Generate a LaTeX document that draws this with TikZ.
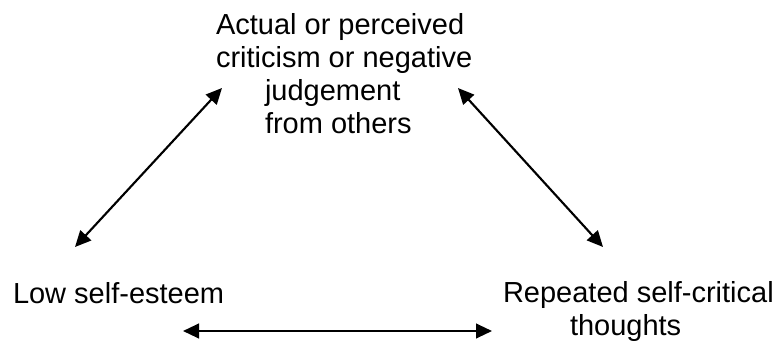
\documentclass[tikz,border=0pt]{standalone}
\usepackage{fontspec}
\setmainfont{Liberation Sans}
\usetikzlibrary{arrows.meta}
\begin{document}
\begin{tikzpicture}[x=0.75pt,y=-0.75pt,
  every node/.style={inner sep=0pt,outer sep=0pt,align=left,anchor=base west,
    font=\fontsize{21.75}{24.75}\selectfont},
  link/.style={line width=1.6pt,
    {Triangle[length=12pt,width=11pt]}-{Triangle[length=12pt,width=11pt]}}]
  \useasboundingbox (0,0) rectangle (778,343);
  % the three statements (base = last line)
  \node (criticism) at (216,133) {Actual or perceived\\criticism or negative\\
    \hspace*{36.75pt}judgement\\\hspace*{36.75pt}from others};
  \node (esteem) at (13,303) {Low self-esteem};
  \node (thoughts) at (503,335) {Repeated self-critical\\\hspace*{50.25pt}thoughts};
  % arrow ends
  \coordinate (esteem-up) at (75,247);
  \coordinate (criticism-left) at (222,88);
  \coordinate (criticism-right) at (458,88);
  \coordinate (thoughts-up) at (603,247);
  \coordinate (esteem-right) at (183,331);
  \coordinate (thoughts-left) at (492,331);
  \draw[link] (esteem-up) -- (criticism-left);
  \draw[link] (criticism-right) -- (thoughts-up);
  \draw[link] (esteem-right) -- (thoughts-left);
\end{tikzpicture}
\end{document}
